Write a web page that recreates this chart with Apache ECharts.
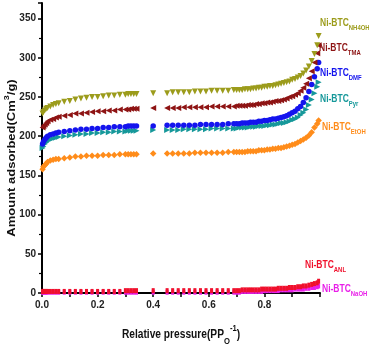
<!DOCTYPE html>
<html>
<head>
<meta charset="utf-8">
<script src="https://cdn.jsdelivr.net/npm/echarts@6/dist/echarts.min.js"></script>
<style>
  html, body { margin: 0; padding: 0; background: #fff; }
  #chart { width: 369px; height: 349px; }
</style>
</head>
<body>
<div id="chart"></div>
<script>
// relative pressure P/P0 (shared by all isotherms)
const P = [
  0.002, 0.005, 0.01, 0.015, 0.02, 0.03, 0.04, 0.05, 0.06,
  0.08, 0.10, 0.12, 0.14, 0.16, 0.18, 0.20, 0.22, 0.24, 0.26, 0.28,
  0.30, 0.31, 0.32, 0.33, 0.34,
  0.40, 0.45,
  0.47, 0.49, 0.51, 0.53, 0.55, 0.57, 0.59, 0.61, 0.63, 0.65, 0.67,
  0.69, 0.70, 0.71, 0.72, 0.73, 0.74, 0.75, 0.76, 0.77, 0.78, 0.79, 0.80, 0.81, 0.82, 0.83, 0.84,
  0.85, 0.86, 0.87, 0.88, 0.89, 0.90, 0.91, 0.92, 0.93, 0.94, 0.95, 0.96, 0.97, 0.98, 0.99,
  0.995
];

// amount adsorbed, cm3/g
const NH4OH = [
  229, 231, 233, 235, 236, 238, 240, 241, 242,
  244, 245, 247, 248, 249, 250, 250, 251, 252, 252, 253,
  253, 254, 254, 254, 254,
  255, 255,
  256, 256, 256, 256, 257, 257, 257, 258, 258, 258, 258,
  259, 259, 259, 259, 260, 260, 260, 261, 261, 262, 262, 263, 263, 264, 264, 265,
  266, 267, 268, 269, 270, 272, 273, 275, 277, 280, 284, 289, 296, 305, 316,
  328
];
const TMA = [
  211, 213, 215, 217, 219, 221, 222, 224, 225,
  226, 227, 229, 229, 230, 231, 232, 232, 233, 233, 234,
  234, 234, 235, 235, 235,
  236, 236,
  236, 236, 237, 237, 237, 237, 237, 238, 238, 238, 238,
  238, 239, 239, 239, 239, 240, 240, 240, 241, 241, 242, 242, 243, 243, 244, 245,
  245, 246, 247, 248, 250, 251, 253, 255, 258, 262, 267, 274, 283, 294, 306,
  316
];
const DMF = [
  190, 193, 196, 198, 200, 202, 203, 204, 205,
  206, 207, 208, 209, 209, 210, 210, 211, 211, 212, 212,
  212, 213, 213, 213, 213,
  213, 214,
  214, 214, 214, 214, 214, 215, 215, 215, 215, 215, 216,
  216, 216, 216, 217, 217, 217, 218, 218, 218, 219, 219, 220, 220, 221, 222, 222,
  223, 224, 225, 226, 228, 230, 232, 235, 238, 243, 249, 257, 266, 276, 286,
  294
];
const PYR = [
  185, 187, 190, 192, 194, 196, 197, 198, 199,
  200, 201, 202, 203, 203, 204, 204, 205, 205, 206, 206,
  206, 207, 207, 207, 207,
  208, 208,
  208, 208, 209, 209, 209, 209, 209, 210, 210, 210, 210,
  210, 210, 211, 211, 211, 211, 212, 212, 212, 213, 213, 213, 214, 214, 215, 215,
  216, 217, 217, 218, 219, 221, 222, 224, 227, 230, 234, 240, 247, 255, 263,
  269
];
const ETOH = [
  158, 161, 163, 165, 167, 169, 170, 171, 171,
  172, 173, 174, 174, 175, 175, 175, 176, 176, 176, 177,
  177, 177, 177, 177, 177,
  178, 178,
  178, 178, 178, 178, 179, 179, 179, 179, 179, 179, 180,
  180, 180, 180, 180, 180, 181, 181, 181, 181, 182, 182, 182, 183, 183, 184, 184,
  185, 185, 186, 187, 188, 189, 190, 192, 194, 196, 198, 201, 205, 211, 216,
  220
];
const ANL = [
  2, 2, 2, 2, 2, 2, 2, 2, 2,
  2, 2, 2, 2, 2, 2, 2, 2, 2, 2, 2,
  3, 3, 3, 3, 3,
  3, 3,
  3, 3, 3, 3, 3, 3, 3, 3, 3, 3, 3,
  3, 3, 3, 4, 4, 4, 4, 4, 4, 4, 5, 5, 5, 5, 5, 5,
  6, 6, 6, 6, 7, 7, 7, 8, 8, 9, 9, 10, 11, 12, 13,
  15
];
const NAOH = [
  1, 1, 1, 1, 1, 1, 1, 1, 1,
  1, 1, 1, 1, 1, 1, 1, 1, 1, 1, 1,
  1, 1, 1, 1, 1,
  1, 1,
  1, 1, 1, 1, 1, 1, 1, 1, 1, 1, 1,
  1, 1, 1, 2, 2, 2, 2, 2, 2, 2, 2, 3, 3, 3, 3, 3,
  3, 4, 4, 4, 4, 4, 5, 5, 5, 5, 6, 6, 7, 7, 8,
  9
];

const X_TICKS = [0, 0.2, 0.4, 0.6, 0.8];
const Y_TICKS = [0, 50, 100, 150, 200, 250, 300, 350];

// sample, marker, colour, label anchor
const SAMPLES = [
  { sub: 'NaOH',  data: NAOH,  color: '#e81ee8', symbol: 'rect',     rot: 0,   size: [3, 5], at: [322, 289] },
  { sub: 'ANL',   data: ANL,   color: '#f0102c', symbol: 'rect',     rot: 0,   size: [3, 5], at: [305, 265] },
  { sub: 'EtOH',  data: ETOH,  color: '#ff8c1a', symbol: 'diamond',  rot: 0,   size: 6.5,    at: [322, 127] },
  { sub: 'Pyr',   data: PYR,   color: '#16989a', symbol: 'triangle', rot: -90, size: 6,      at: [320, 99] },
  { sub: 'DMF',   data: DMF,   color: '#1414ee', symbol: 'circle',   rot: 0,   size: 5.5,    at: [320, 73] },
  { sub: 'TMA',   data: TMA,   color: '#8e1414', symbol: 'triangle', rot: 90,  size: 6,      at: [319, 48] },
  { sub: 'NH4OH', data: NH4OH, color: '#9c9c1c', symbol: 'triangle', rot: 180, size: 6,      at: [320, 23] },
];

const FONT = '"Liberation Sans", Arial, sans-serif';

const chart = echarts.init(document.getElementById('chart'), null, { renderer: 'canvas' });

chart.setOption({
  animation: false,
  backgroundColor: '#fff',
  grid: { left: 42, right: 49, top: 3, bottom: 56, containLabel: false, outerBoundsMode: 'none' },
  xAxis: {
    type: 'value', min: 0, max: 1.0, interval: 0.2,
    axisLine: { lineStyle: { color: '#000', width: 2 } },
    axisTick: { length: 4, lineStyle: { color: '#000', width: 1.5 } },
    minorTick: { show: true, splitNumber: 2, length: 4, lineStyle: { color: '#000', width: 1.5 } },
    splitLine: { show: false },
    axisLabel: {
      color: '#222', fontFamily: FONT, fontSize: 10, fontWeight: 'bold', margin: 7,
      formatter: v => X_TICKS.some(t => Math.abs(t - v) < 1e-9) ? v.toFixed(1) : '',
    },
  },
  yAxis: {
    type: 'value', min: 0, max: 370, interval: 50,
    axisLine: { show: true, lineStyle: { color: '#000', width: 2 } },
    axisTick: { show: true, length: 4, lineStyle: { color: '#000', width: 1.5 } },
    minorTick: { show: true, splitNumber: 2, length: 3, lineStyle: { color: '#000', width: 1.2 } },
    splitLine: { show: false },
    axisLabel: {
      color: '#222', fontFamily: FONT, fontSize: 10, fontWeight: 'bold', margin: 6,
      formatter: v => Y_TICKS.includes(v) ? String(v) : '',
    },
  },
  graphic: [
    {
      // y title, squeezed a bit like the source figure
      type: 'text', x: 12, y: 158, rotation: Math.PI / 2, scaleY: 0.85,
      style: {
        text: '{m|Amount adsorbed(Cm}{p|3}{m|/g)}',
        align: 'center', verticalAlign: 'middle',
        rich: {
          m: { fontFamily: FONT, fontSize: 13, fontWeight: 'bold', fill: '#111', lineHeight: 22 },
          p: { fontFamily: FONT, fontSize: 9, fontWeight: 'bold', fill: '#111', lineHeight: 9, verticalAlign: 'top' },
        },
      },
    },
    {
      type: 'text', x: 181, y: 335, scaleX: 0.85,
      style: {
        text: '{m|Relative pressure(PP}{s|O}{p|-1}{m|)}',
        align: 'center', verticalAlign: 'middle',
        rich: {
          m: { fontFamily: FONT, fontSize: 12, fontWeight: 'bold', fill: '#111', lineHeight: 22 },
          s: { fontFamily: FONT, fontSize: 9, fontWeight: 'bold', fill: '#111', lineHeight: 9, verticalAlign: 'bottom' },
          p: { fontFamily: FONT, fontSize: 9, fontWeight: 'bold', fill: '#111', lineHeight: 9, verticalAlign: 'top' },
        },
      },
    },
    ...SAMPLES.map(s => ({
      type: 'text', x: s.at[0], y: s.at[1], scaleX: 0.85,
      style: {
        text: `{m|Ni-BTC}{s|${s.sub}}`,
        align: 'left', verticalAlign: 'middle',
        rich: {
          m: { fontFamily: FONT, fontSize: 10, fontWeight: 'bold', fill: s.color, lineHeight: 18 },
          s: { fontFamily: FONT, fontSize: 7, fontWeight: 'bold', fill: s.color, lineHeight: 7, verticalAlign: 'bottom' },
        },
      },
    })),
  ],
  series: SAMPLES.map(s => ({
    name: 'Ni-BTC ' + s.sub,
    type: 'scatter',
    data: P.map((x, i) => [x, s.data[i]]),
    symbol: s.symbol,
    symbolSize: s.size,
    symbolRotate: s.rot,
    itemStyle: { color: s.color, opacity: 1 },
    silent: true,
  })),
});
</script>
</body>
</html>
